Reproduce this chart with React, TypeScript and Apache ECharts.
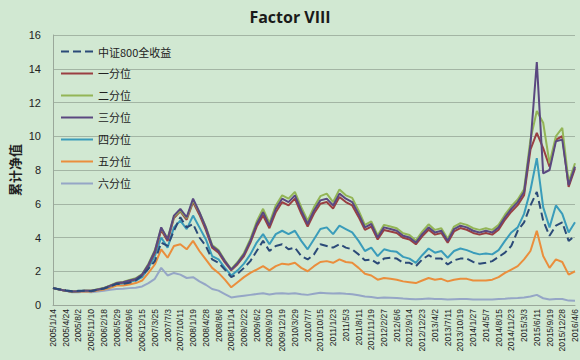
import React, { useEffect, useRef } from "react";
import * as echarts from "echarts";

const TICK_LABELS = [
  "2005/1/14", "2005/4/24", "2005/8/2", "2005/11/10", "2006/2/18", "2006/5/29", "2006/9/6",
  "2006/12/15", "2007/3/25", "2007/7/3", "2007/10/11", "2008/1/19", "2008/4/28", "2008/8/6",
  "2008/11/14", "2009/2/22", "2009/6/2", "2009/9/10", "2009/12/19", "2010/3/29", "2010/7/7",
  "2010/10/15", "2011/1/23", "2011/5/3", "2011/8/11", "2011/11/19", "2012/2/27", "2012/6/6",
  "2012/9/14", "2012/12/23", "2013/4/2", "2013/7/11", "2013/10/19", "2014/1/27", "2014/5/7",
  "2014/8/15", "2014/11/23", "2015/3/3", "2015/6/11", "2015/9/19", "2015/12/28", "2016/4/6",
];

const SERIES_NAMES = ["中证800全收益", "一分位", "二分位", "三分位", "四分位", "五分位", "六分位"];

const CSI800 = [
  1.0, 0.93, 0.87, 0.82, 0.84, 0.85, 0.82, 0.9, 0.98, 1.1, 1.25, 1.25, 1.32, 1.45, 1.75, 2.15, 2.6,
  3.7, 3.5, 4.4, 5.2, 4.6, 4.8, 4.0, 3.5, 2.7, 2.5, 2.1, 1.65, 1.85, 2.2, 2.6, 3.2, 3.8, 3.2, 3.5,
  3.6, 3.3, 3.4, 2.9, 2.7, 3.0, 3.6, 3.5, 3.4, 3.6, 3.4, 3.3, 3.0, 2.65, 2.7, 2.45, 2.75, 2.8, 2.75,
  2.5, 2.5, 2.3, 2.7, 2.95, 2.75, 2.75, 2.4, 2.65, 2.75, 2.75, 2.55, 2.45, 2.5, 2.6, 2.85, 3.1, 3.5,
  4.4, 4.9, 5.9, 6.7, 5.0, 4.1, 4.7, 4.9, 3.8, 4.1,
];

const Q1 = [
  1.0, 0.92, 0.85, 0.8, 0.82, 0.85, 0.84, 0.91, 0.99, 1.13, 1.28, 1.33, 1.42, 1.52, 1.76, 2.35, 3.1,
  4.45, 3.8, 5.15, 5.55, 5.05, 6.1, 5.35, 4.45, 3.4, 3.1, 2.52, 2.05, 2.42, 2.9, 3.68, 4.65, 5.3,
  4.55, 5.5, 6.1, 5.9, 6.3, 5.42, 4.65, 5.42, 6.0, 6.1, 5.72, 6.4, 6.1, 5.9, 5.22, 4.45, 4.65, 3.88,
  4.45, 4.36, 4.27, 3.98, 3.88, 3.6, 4.07, 4.46, 4.17, 4.27, 3.69, 4.36, 4.56, 4.46, 4.27, 4.17, 4.27,
  4.17, 4.46, 5.05, 5.53, 5.92, 6.5, 9.2, 10.2, 9.3, 8.2, 9.8, 10.0, 7.0, 8.1,
];

const Q2 = [
  1.0, 0.92, 0.85, 0.8, 0.82, 0.85, 0.85, 0.93, 1.01, 1.16, 1.32, 1.37, 1.48, 1.58, 1.84, 2.45, 3.25,
  4.55, 3.95, 5.25, 5.6, 5.15, 6.2, 5.5, 4.65, 3.55, 3.25, 2.65, 2.12, 2.55, 3.08, 3.9, 4.95, 5.7,
  4.85, 5.9, 6.5, 6.3, 6.7, 5.8, 5.0, 5.8, 6.45, 6.6, 6.1, 6.85, 6.5, 6.35, 5.6, 4.75, 4.95, 4.12,
  4.75, 4.65, 4.55, 4.25, 4.15, 3.82, 4.35, 4.78, 4.45, 4.55, 3.92, 4.65, 4.85, 4.75, 4.55, 4.45, 4.55,
  4.45, 4.75, 5.35, 5.85, 6.25, 6.85, 9.8, 11.5, 10.8, 8.4, 10.0, 10.5, 7.3, 8.4,
];

const Q3 = [
  1.0, 0.92, 0.85, 0.8, 0.82, 0.85, 0.84, 0.92, 1.0, 1.15, 1.3, 1.35, 1.45, 1.55, 1.8, 2.4, 3.2, 4.6,
  3.9, 5.3, 5.7, 5.2, 6.3, 5.5, 4.6, 3.5, 3.2, 2.6, 2.1, 2.5, 3.0, 3.8, 4.8, 5.5, 4.7, 5.7, 6.3, 6.1,
  6.5, 5.6, 4.8, 5.6, 6.2, 6.3, 5.9, 6.6, 6.3, 6.1, 5.4, 4.6, 4.8, 4.0, 4.6, 4.5, 4.4, 4.1, 4.0, 3.7,
  4.2, 4.6, 4.3, 4.4, 3.8, 4.5, 4.7, 4.6, 4.4, 4.3, 4.4, 4.3, 4.6, 5.2, 5.7, 6.1, 6.7, 9.5, 14.4, 7.8,
  8.0, 9.7, 9.8, 7.1, 8.2,
];

const Q4 = [
  1.0, 0.92, 0.85, 0.8, 0.82, 0.84, 0.83, 0.9, 0.97, 1.1, 1.25, 1.28, 1.38, 1.45, 1.65, 2.2, 2.9, 4.0,
  3.4, 4.6, 5.0, 4.5, 5.3, 4.6, 3.9, 2.9, 2.7, 2.2, 1.75, 2.05, 2.45, 3.0, 3.7, 4.2, 3.6, 4.2, 4.4,
  4.2, 4.4, 3.8, 3.3, 3.9, 4.5, 4.6, 4.2, 4.7, 4.5, 4.3, 3.8, 3.2, 3.4, 2.9, 3.3, 3.2, 3.15, 2.85,
  2.75, 2.5, 2.95, 3.35, 3.1, 3.2, 2.8, 3.2, 3.35, 3.25, 3.1, 3.0, 3.05, 3.0, 3.25, 3.8, 4.3, 4.6,
  5.4, 6.8, 8.7, 5.8, 4.6, 5.9, 5.4, 4.3, 4.9,
];

const Q5 = [
  1.0, 0.92, 0.84, 0.78, 0.8, 0.82, 0.8, 0.86, 0.92, 1.02, 1.15, 1.15, 1.22, 1.3, 1.45, 1.9, 2.4, 3.3,
  2.8, 3.5, 3.6, 3.3, 3.8, 3.2, 2.7, 2.2, 1.9, 1.5, 1.05, 1.35, 1.65, 1.9, 2.1, 2.3, 2.05, 2.3, 2.45,
  2.4, 2.5, 2.2, 2.0, 2.3, 2.55, 2.6, 2.5, 2.7, 2.55, 2.5, 2.2, 1.85, 1.75, 1.5, 1.6, 1.55, 1.5, 1.4,
  1.35, 1.3, 1.45, 1.6, 1.5, 1.55, 1.4, 1.5, 1.55, 1.55, 1.45, 1.45, 1.45, 1.5, 1.65, 1.9, 2.1, 2.3,
  2.7, 3.2, 4.4, 2.9, 2.2, 2.7, 2.55, 1.8, 2.0,
];

const Q6 = [
  1.0, 0.92, 0.84, 0.76, 0.76, 0.78, 0.75, 0.8, 0.84, 0.9, 0.95, 0.96, 1.0, 1.02, 1.1, 1.3, 1.55, 2.2,
  1.75, 1.9, 1.8, 1.6, 1.65, 1.4, 1.2, 0.95, 0.85, 0.65, 0.45, 0.5, 0.55, 0.6, 0.65, 0.7, 0.62, 0.68,
  0.7, 0.66, 0.7, 0.64, 0.6, 0.66, 0.72, 0.7, 0.68, 0.7, 0.66, 0.64, 0.58, 0.5, 0.48, 0.42, 0.44,
  0.43, 0.42, 0.38, 0.36, 0.34, 0.36, 0.38, 0.36, 0.36, 0.32, 0.34, 0.35, 0.35, 0.33, 0.32, 0.33,
  0.33, 0.35, 0.37, 0.4, 0.42, 0.45, 0.5, 0.6, 0.4, 0.32, 0.36, 0.35, 0.26, 0.25,
];

const COLORS = ["#2b4a78", "#9a3f42", "#93b556", "#5a4880", "#3a9cba", "#ea8e3c", "#95a6c6"];

function fmt(d: Date) {
  return `${d.getFullYear()}/${d.getMonth() + 1}/${d.getDate()}`;
}

function buildCategories(labels: string[]) {
  const out: string[] = [];
  labels.forEach((l, i) => {
    out.push(l);
    if (i < labels.length - 1) {
      const [y, m, d] = l.split("/").map(Number);
      const mid = new Date(y, m - 1, d);
      mid.setDate(mid.getDate() + 50);
      out.push(fmt(mid));
    }
  });
  return out;
}

export default function App() {
  const ref = useRef<HTMLDivElement>(null);
  useEffect(() => {
    document.body.style.margin = "0";
    if (!ref.current) return;
    const chart = echarts.init(ref.current, undefined, { renderer: "svg" });
    const categories = buildCategories(TICK_LABELS);
    const data = [CSI800, Q1, Q2, Q3, Q4, Q5, Q6];
    const order = [6, 5, 0, 4, 1, 2, 3];
    chart.setOption({
      animation: false,
      backgroundColor: "#d1e8d2",
      title: {
        text: "Factor VIII",
        left: "center",
        top: 4,
        textStyle: { fontFamily: "Open Sans", fontWeight: "bold", fontSize: 16, color: "#1a1a1a" },
      },
      legend: {
        orient: "vertical",
        left: 55,
        top: 41,
        itemWidth: 32,
        itemHeight: 10,
        itemGap: 11,
        itemStyle: { opacity: 0 },
        data: SERIES_NAMES,
        textStyle: { fontFamily: "Noto Sans CJK SC", fontSize: 11, color: "#222" },
      },
      grid: { left: 44, right: 5, top: 35, bottom: 55 },
      xAxis: {
        type: "category",
        boundaryGap: false,
        data: categories,
        axisLine: { lineStyle: { color: "#9aa89a" } },
        axisTick: { show: false },
        axisLabel: {
          interval: 1,
          rotate: 90,
          fontSize: 8.5,
          lineHeight: 9,
          margin: 4,
          color: "#222",
          fontFamily: "Liberation Sans",
        },
      },
      yAxis: {
        type: "value",
        min: 0,
        max: 16,
        interval: 2,
        name: "累计净值",
        nameLocation: "middle",
        nameRotate: 90,
        nameGap: 32,
        nameMoveOverlap: false,
        nameTextStyle: { fontFamily: "Noto Sans CJK SC", fontSize: 13, fontWeight: "bold", color: "#222" },
        axisLine: { show: true, lineStyle: { color: "#9aa89a" } },
        axisTick: { show: false },
        axisLabel: { fontSize: 11, color: "#222", margin: 12, fontFamily: "Liberation Sans" },
        splitLine: { lineStyle: { color: "#a3b5a4", width: 1 } },
      },
      series: order.map((k) => ({
        name: SERIES_NAMES[k],
        type: "line",
        data: data[k],
        symbol: "none",
        smooth: false,
        color: COLORS[k],
        lineStyle: { width: 2, color: COLORS[k], type: k === 0 ? "dashed" : "solid" },
        z: k === 0 ? 5 : 2,
      })),
    });
    return () => chart.dispose();
  }, []);
  return <div ref={ref} style={{ width: 580, height: 360 }} />;
}
